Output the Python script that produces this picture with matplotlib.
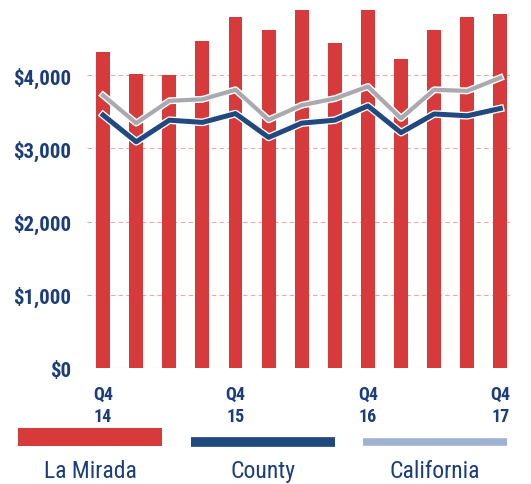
import matplotlib
matplotlib.use("Agg")
import matplotlib.pyplot as plt
import matplotlib.patheffects as pe
from matplotlib.lines import Line2D
import numpy as np

quarters = ["Q4\n14", "Q1\n15", "Q2\n15", "Q3\n15", "Q4\n15", "Q1\n16", "Q2\n16",
            "Q3\n16", "Q4\n16", "Q1\n17", "Q2\n17", "Q3\n17", "Q4\n17"]
la_mirada = [4310, 4020, 4000, 4470, 4800, 4610, 4895, 4440, 4895, 4220, 4610, 4800, 4835]
county = [3455, 3090, 3385, 3355, 3475, 3150, 3345, 3385, 3580, 3215, 3470, 3445, 3545]
california = [3725, 3345, 3650, 3670, 3800, 3390, 3590, 3680, 3845, 3410, 3800, 3785, 3965]
yticks = [0, 1000, 2000, 3000, 4000]
shown_ticks = [0, 4, 8, 12]

narrow = ["Roboto Condensed", "Archivo Narrow", "DejaVu Sans"]

navy = "#1b3d7a"
red = "#d63a3a"
blue = "#21497f"
grey = "#a9a9ae"
light = "#9fb2d2"

fig = plt.figure(figsize=(5.31, 4.85), dpi=100)
ax = fig.add_axes([0.163, 0.239, 0.798, 0.755])

x = np.arange(len(quarters))
ax.bar(x, la_mirada, width=0.42, color=red, zorder=2)
ax.plot(x, california, color=grey, linewidth=3, zorder=3,
        path_effects=[pe.Stroke(linewidth=5, foreground="white"), pe.Normal()])
ax.plot(x, county, color=blue, linewidth=3.6, zorder=4,
        path_effects=[pe.Stroke(linewidth=5.5, foreground="white"), pe.Normal()])

ax.set_xlim(-0.5, 12.3)
ax.set_ylim(0, 5000)
ax.set_yticks(yticks)
ax.set_yticklabels(["${:,}".format(v) for v in yticks], fontfamily=narrow,
                   fontweight="bold", fontsize=15, color=navy)
ax.set_xticks(x[shown_ticks])
ax.set_xticklabels([quarters[i] for i in shown_ticks], fontfamily=narrow,
                   fontweight="bold", fontsize=13, color=navy, linespacing=1.3)
ax.tick_params(axis="y", length=0, pad=11)
ax.tick_params(axis="x", length=0, pad=12)
ax.grid(axis="y", color="#eaa8a8", linestyle=(0, (4, 3)), linewidth=0.8, zorder=1)
for s in ax.spines.values():
    s.set_visible(False)

# legend drawn underneath: colour swatch with its label below
W, H = 531.0, 485.0
legend = [("La Mirada", red, 13, 18, 162, 438),
          ("County", blue, 7, 191, 335, 443),
          ("California", light, 5.5, 363, 507, 443)]
for label, col, lw, x0, x1, yc in legend:
    fig.add_artist(Line2D([x0 / W, x1 / W], [1 - yc / H, 1 - yc / H], color=col,
                          linewidth=lw, solid_capstyle="butt", transform=fig.transFigure))
    fig.text((x0 + x1) / 2 / W, 1 - 472 / H, label, ha="center", va="center",
             fontfamily=narrow, fontsize=17, color=navy)

fig.savefig("out.png", dpi=100)
